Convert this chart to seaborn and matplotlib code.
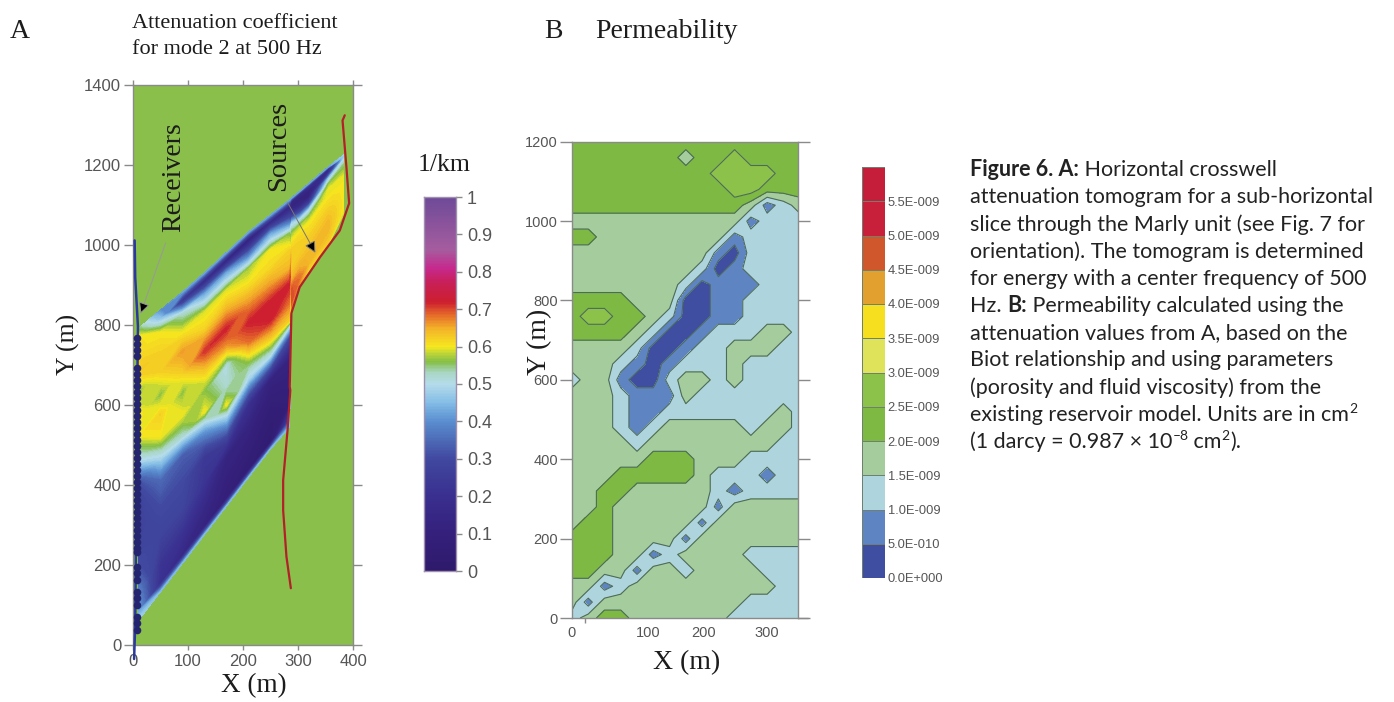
import numpy as np
import matplotlib
matplotlib.use("Agg")
import matplotlib.pyplot as plt
from matplotlib.colors import LinearSegmentedColormap, ListedColormap, BoundaryNorm
import seaborn as sns

W, H = 1394, 702
PT = .72  # tick lengths are read in pixels

# --- panel A: attenuation, columns along X, rows between wedge_low and wedge_up
wedge_x = [10, 50, 90, 130, 170, 210, 250, 285, 288, 303, 320, 355, 383]
wedge_low = [62, 133, 204, 276, 347, 419, 490, 545, 830, 895, 935, 1000, 1075]
wedge_up = [792, 838, 883, 931, 982, 1033, 1076, 1114, 1118, 1135, 1155, 1196, 1226]
wedge_t = [0, .03, .1, .2, .3, .4, .47, .55, .63, .7, .78, .85, .92, .97, 1]
atten_cols = [
    [.48, .42, .38, .30, .27, .27, .30, .50, .60, .61, .56, .63, .61, .61, .55],
    [.45, .20, .22, .28, .30, .35, .48, .60, .62, .56, .62, .62, .60, .46, .40],
    [.45, .15, .20, .28, .30, .33, .52, .60, .56, .62, .66, .60, .52, .22, .42],
    [.45, .12, .15, .22, .24, .42, .60, .56, .63, .71, .62, .59, .42, .16, .42],
    [.45, .08, .10, .13, .35, .60, .52, .50, .66, .72, .64, .59, .42, .12, .42],
    [.45, .06, .08, .12, .20, .48, .56, .68, .72, .67, .61, .57, .32, .10, .42],
    [.45, .03, .05, .08, .12, .50, .62, .72, .72, .66, .61, .60, .42, .15, .42],
    [.45, .30, .08, .10, .12, .30, .62, .68, .72, .64, .62, .56, .30, .13, .42],
    [.60, .66, .70, .70, .64, .62, .62, .62, .60, .56, .48, .25, .12, .14, .42],
    [.60, .66, .68, .65, .63, .62, .62, .61, .58, .50, .30, .15, .12, .15, .42],
    [.58, .62, .64, .64, .63, .62, .61, .60, .56, .48, .25, .12, .12, .20, .42],
    [.58, .62, .63, .64, .64, .63, .62, .61, .60, .60, .56, .46, .20, .15, .42],
    [.56, .58, .60, .60, .60, .60, .60, .60, .60, .58, .56, .54, .50, .46, .48],
]
source_x = [385, 381, 388, 393, 376, 340, 303, 288, 285, 286, 281, 273, 273, 279, 287]
source_y = [1325, 1312, 1196, 1105, 1037, 970, 895, 830, 646, 637, 537, 412, 337, 221, 142]
receiver_line_x = [3, 4, 9, 6, 5, 4, 2]
receiver_line_y = [1012, 920, 796, 400, 200, 50, -35]
receiver_y = [768, 753, 738, 723, 693, 678, 663, 648, 633, 618, 603, 588, 573, 558, 543, 528, 513,
              498, 483, 468, 453, 438, 423, 408, 393, 378, 363, 348, 333, 318, 303, 288, 273, 258,
              243, 233, 196, 180, 162, 133, 117, 100, 70, 54, 38]

atten_stops = [0, .1, .2, .3, .4, .45, .5, .53, .56, .58, .6, .65, .68, .72, .77, .81, .86, 1]
atten_colors = ["#2e1a6b", "#35207c", "#3a2f8f", "#40489f", "#5a8ed0", "#84bde6", "#b5dcea", "#a9d6c4",
                "#85bf45", "#b8d33a", "#f6e81e", "#f3b02a", "#e8742a", "#cd1f2f", "#c81f55", "#c7288c",
                "#a65c9f", "#6e4a98"]
atten_ticks = [0, .1, .2, .3, .4, .5, .6, .7, .8, .9, 1]

# --- panel B: permeability classes at x = 0, 25 .. 350 and y = 1200, 1160 .. 0
perm_x = list(range(0, 351, 25))
perm_y = list(range(1200, -1, -40))
perm_class = {"D": .25, "B": .75, "L": 1.25, "P": 1.75, "G": 2.25, "H": 2.75}
perm_rows = [
    "GGGGGGGGGGGGGGG",
    "GGGGGGGPGGHGGGG",
    "GGGGGGGGGHHHHGG",
    "GGGGGGGGGGHHGGG",
    "GGGGGGGGGGGPBLP",
    "PPPPPPPPPPPBLLL",
    "GGPPPPPPPPBLLLL",
    "PPPPPPPPPBDLLLL",
    "PPPPPPPPLDBLLLL",
    "PPPPPPPLDBBBLLL",
    "GGGGPPPDDBBLLLL",
    "GHHGGPLDDBBLLLL",
    "GGGGPLDDBLLLPPL",
    "PPPPLDDBLLPPPLL",
    "PPPLBDBLLLPLLLL",
    "LPPBDDLPPLPLLLL",
    "PPPLBBBPLLLLLLL",
    "PPPLBBLLLLLLLPL",
    "PPPLBLPPPPPLPPL",
    "PPPPLPPPPPPPPLL",
    "PPPPPGGGPPPLLLL",
    "PPPGGGGGPLLLBLL",
    "PPGGPPPPPLBLLLL",
    "PPGPPPPPPBPPPPP",
    "PGGPPPPPBPPPPPP",
    "GGGPPPPBPPPPPPP",
    "GGGPPBLPPPPLLLL",
    "GGPPBPPLPPPPLLL",
    "PPBLPPPPPPPPPLL",
    "PBPPPPPPPPPLLLL",
    "LPGGPPPPPPLLLLL",
]
perm_levels = [0, .5, 1, 1.5, 2, 2.5, 3, 3.5, 4, 4.5, 5, 5.5, 6]
perm_colors = ["#3f4ea0", "#5f84c2", "#aed4de", "#a4cc9c", "#7db943", "#8dc24a",
               "#dfe35a", "#f5df1e", "#e2a02f", "#d0572c", "#c8203a", "#c41e3a"]
perm_ticks = ["0.0E+000", "5.0E-010", "1.0E-009", "1.5E-009", "2.0E-009", "2.5E-009",
              "3.0E-009", "3.5E-009", "4.0E-009", "4.5E-009", "5.0E-009", "5.5E-009"]

caption = [
    [("Figure 6. A:", True, False), (" Horizontal crosswell", False, False)],
    [("attenuation tomogram for a sub-horizontal", False, False)],
    [("slice through the Marly unit (see Fig. 7 for", False, False)],
    [("orientation). The tomogram is determined", False, False)],
    [("for energy with a center frequency of 500", False, False)],
    [("Hz. ", False, False), ("B:", True, False), (" Permeability calculated using the", False, False)],
    [("attenuation values from A, based on the", False, False)],
    [("Biot relationship and using parameters", False, False)],
    [("(porosity and fluid viscosity) from the", False, False)],
    [("existing reservoir model. Units are in cm", False, False), ("2", False, True)],
    [("(1 darcy = 0.987 × 10", False, False), ("–8", False, True), (" cm", False, False), ("2", False, True), (").", False, False)],
]

SERIF = "Liberation Serif"
SANS = "Liberation Sans"
GREY = "#8a8a8a"
LABEL = "#555555"
GREEN = "#8abf4b"

sns.set_theme(style="white")
fig = plt.figure(figsize=(W / 100, H / 100), dpi=100)


def px_axes(left, top, right, bottom):
    return fig.add_axes([left / W, 1 - bottom / H, (right - left) / W, (bottom - top) / H])


def px_text(x, y, s, **kw):
    kw.setdefault("va", "center")
    kw.setdefault("family", SERIF)
    kw.setdefault("color", "#1c1c1c")
    return fig.text(x / W, 1 - y / H, s, **kw)


def frame(ax):
    for sp in ax.spines.values():
        sp.set_visible(True)
        sp.set_color(GREY)
        sp.set_linewidth(1)
    for t in ax.get_xticklabels() + ax.get_yticklabels():
        t.set_family(SANS)


# panel A
atten_cmap = LinearSegmentedColormap.from_list("atten", list(zip(atten_stops, atten_colors)))
ax = px_axes(133, 85.3, 353, 645)
ax.set_facecolor(GREEN)
low = np.array(wedge_low, float)
up = np.array(wedge_up, float)
xx = np.tile(np.array(wedge_x, float), (len(wedge_t), 1))
yy = np.outer(wedge_t, up - low) + low
ax.contourf(xx, yy, np.array(atten_cols).T, levels=np.linspace(0, 1, 161), cmap=atten_cmap, antialiased=False)
ax.plot(source_x, source_y, color="#b3202a", lw=1.6)
ax.plot(receiver_line_x, receiver_line_y, color="#2b3a9a", lw=1.8, clip_on=False, zorder=4)
sns.scatterplot(x=[7] * len(receiver_y), y=receiver_y, color="#25256f", s=30, linewidth=0, ax=ax, zorder=5, clip_on=False)
ax.annotate("", xy=(12, 822), xytext=(61, 1012),
            arrowprops=dict(arrowstyle="-|>", facecolor="black", edgecolor="#999999", lw=.7, mutation_scale=17))
ax.annotate("", xy=(334, 975), xytext=(279, 1112),
            arrowprops=dict(arrowstyle="-|>", facecolor="black", edgecolor="#777777", lw=.7, mutation_scale=17))
ax.set_xlim(0, 400)
ax.set_ylim(0, 1400)
ax.set_xticks(range(0, 401, 100))
ax.set_yticks(range(0, 1401, 200))
ax.tick_params(top=True, right=True, bottom=True, left=True, direction="out", color=GREY, labelcolor=LABEL)
ax.tick_params(axis="y", length=9 * PT, width=1, pad=2, labelsize=12)
ax.tick_params(axis="x", length=5 * PT, width=1, pad=3, labelsize=12)
frame(ax)

# colour bar A
cax = px_axes(424, 197, 456, 571)
bar = np.array(atten_stops[-1] - np.arange(256) / 255).reshape(-1, 1)
sns.heatmap(bar, ax=cax, cmap=atten_cmap, vmin=0, vmax=1, cbar=False, xticklabels=False, yticklabels=False)
cax.yaxis.tick_right()
cax.set_yticks([(1 - v) * 256 for v in atten_ticks])
cax.set_yticklabels([f"{v:g}" for v in atten_ticks], rotation=0, fontsize=13)
cax.tick_params(right=True, left=False, labelright=True, labelleft=False, length=6 * PT, width=1,
                pad=3.5, color=GREY, labelcolor=LABEL)
frame(cax)
for sp in cax.spines.values():
    sp.set_color("#a090b0")

# panel B
perm_cmap = ListedColormap(perm_colors)
perm_norm = BoundaryNorm(perm_levels, perm_cmap.N)
perm_grid = np.array([[perm_class[c] for c in row] for row in perm_rows])
bx = px_axes(572, 141.7, 797.7, 618)
bx.contourf(perm_x, perm_y, perm_grid, levels=perm_levels, cmap=perm_cmap, norm=perm_norm)
bx.contour(perm_x, perm_y, perm_grid, levels=perm_levels, colors="#4d6b5c", linewidths=.8)
bx.plot([347, 363], [0, 0], color=GREY, lw=1, clip_on=False)
bx.set_xlim(0, 347)
bx.set_ylim(0, 1200)
# the labels sit off their tick positions in the source figure
bx.set_xticks([0, 117, 203, 300])
bx.set_xticklabels(["0", "100", "200", "300"])
bx.set_xticks([20], minor=True)
bx.set_yticks(range(0, 1201, 200))
bx.tick_params(right=True, left=True, direction="out", color=GREY, labelcolor=LABEL)
bx.tick_params(axis="y", length=12 * PT, width=1, pad=1.5, labelsize=10.5)
bx.tick_params(axis="x", which="major", length=0, pad=6, labelsize=10.5, bottom=False)
bx.tick_params(axis="x", which="minor", length=5 * PT, width=1, bottom=True, color=GREY)
frame(bx)

# colour bar B
dax = px_axes(862, 167, 885, 578)
bands = np.arange(len(perm_colors))[::-1].reshape(-1, 1)
sns.heatmap(bands, ax=dax, cmap=perm_cmap, cbar=False, xticklabels=False, yticklabels=False,
            linewidths=.4, linecolor="#6f7f70")
dax.yaxis.tick_right()
dax.set_yticks([len(perm_colors) - i for i in range(len(perm_ticks))])
dax.set_yticklabels(perm_ticks, rotation=0, fontsize=9.3, family=SANS, color=LABEL)
dax.tick_params(right=False, left=False, labelright=True, labelleft=False, length=0, pad=2)

# headings and axis labels
px_text(10, 32, "A", fontsize=20)
px_text(132, 23, "Attenuation coefficient", fontsize=16)
px_text(132, 50, "for mode 2 at 500 Hz", fontsize=16)
px_text(544, 31, "B", fontsize=20)
px_text(595, 31, "Permeability", fontsize=20)
px_text(444, 165, "1/km", fontsize=18.5, ha="center")
px_text(174, 177, "Receivers", fontsize=20, rotation=90, ha="center")
px_text(279, 146, "Sources", fontsize=20.5, rotation=90, ha="center")
px_text(68, 344, "Y (m)", fontsize=18.5, rotation=90, ha="center")
px_text(254, 686, "X (m)", fontsize=19.5, ha="center")
px_text(540, 342, "Y (m)", fontsize=20, rotation=90, ha="center")
px_text(687, 663, "X (m)", fontsize=20, ha="center")

# caption, run by run so bold words and superscripts stay inline
renderer = fig.canvas.get_renderer()
for i, line in enumerate(caption):
    x = 970
    y = 170 + i * 27.2
    for text, bold, sup in line:
        t = px_text(x, y + (-6 if sup else 0), text, family="Lato", color="#222222",
                    fontsize=10 if sup else 15.5, weight="bold" if bold else "normal", va="center")
        # trailing spaces are dropped by the bbox, so measure with a stand-in
        t.set_text(text.replace(" ", "\u00a0"))
        x += t.get_window_extent(renderer).width

fig.savefig("out.png", dpi=100)
